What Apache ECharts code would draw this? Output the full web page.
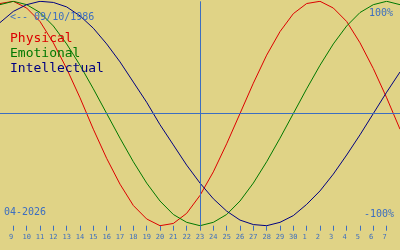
<!DOCTYPE html>
<html>
<head>
<meta charset="utf-8">
<script src="https://cdn.jsdelivr.net/npm/echarts@6/dist/echarts.min.js"></script>
<style>
html,body{margin:0;padding:0;background:#e0d386;}
#c{width:400px;height:250px;}
</style>
</head>
<body>
<div id="c"></div>
<script>
// Day labels along the x axis (8 April 2026 .. 8 May 2026)
const dayLabels = ['8','9','10','11','12','13','14','15','16','17','18','19','20','21','22','23','24','25','26','27','28','29','30','1','2','3','4','5','6','7','8'];
const todayLabel = '23';
const monthLabel = '04-2026';
const birthLabel = '<-- 09/10/1986';
const topLabel = '100%';
const bottomLabel = '-100%';
const seriesNames = ['Physical','Emotional','Intellectual'];

// Values, one per day (-1 .. 1)
const physical = [0.98,1.00,0.94,0.82,0.63,0.40,0.14,-0.14,-0.40,-0.63,-0.82,-0.94,-1.00,-0.98,-0.89,-0.73,-0.52,-0.27,0.00,0.27,0.52,0.73,0.89,0.98,1.00,0.94,0.82,0.63,0.40,0.14,-0.14];
const emotional = [0.97,1.00,0.97,0.90,0.78,0.62,0.43,0.22,0.00,-0.22,-0.43,-0.62,-0.78,-0.90,-0.97,-1.00,-0.97,-0.90,-0.78,-0.62,-0.43,-0.22,0.00,0.22,0.43,0.62,0.78,0.90,0.97,1.00,0.97];
const intellectual = [0.81,0.91,0.97,1.00,0.99,0.95,0.87,0.76,0.62,0.46,0.28,0.10,-0.10,-0.28,-0.46,-0.62,-0.76,-0.87,-0.95,-0.99,-1.00,-0.97,-0.91,-0.81,-0.69,-0.54,-0.37,-0.19,0.00,0.19,0.37];

const BLUE = '#3c6ec0';
const colors = ['#dc0000','#007800','#000080'];
const MONO = '"DejaVu Sans Mono", "Liberation Mono", monospace';

const chart = echarts.init(document.getElementById('c'), null, {renderer:'canvas'});
const lastIdx = dayLabels.length - 1;
const inner = (i) => i > 0 && i < lastIdx;
const txt = (size) => ({color: BLUE, fontFamily: MONO, fontSize: size, fontWeight: 'normal'});

chart.setOption({
  animation: false,
  backgroundColor: '#e0d386',
  title: [
    {text: birthLabel, left: 10, top: 12, padding: 0, textStyle: txt(10)},
    {text: topLabel, right: 7, top: 8, padding: 0, textStyle: txt(10)},
    {text: bottomLabel, right: 6, top: 209, padding: 0, textStyle: txt(10)},
    {text: monthLabel, left: 4, top: 207, padding: 0, textStyle: txt(10)}
  ],
  legend: {
    orient: 'vertical',
    left: 5,
    top: 32,
    padding: 0,
    itemGap: 2,
    itemWidth: 0,
    itemHeight: 13,
    icon: 'none',
    selectedMode: false,
    data: seriesNames.map((n, i) => ({name: n, textStyle: {color: colors[i], fontFamily: MONO, fontSize: 13}}))
  },
  grid: {left: 0, right: 0, top: 1.3, bottom: 24.3},
  xAxis: {
    type: 'category',
    data: dayLabels,
    boundaryGap: false,
    axisLine: {show: false, onZero: false},
    axisTick: {show: true, length: 5, interval: (i) => inner(i), lineStyle: {color: BLUE, width: 1}},
    axisLabel: {
      interval: (i) => inner(i),
      margin: 8,
      color: BLUE,
      fontFamily: MONO,
      fontSize: 7,
      formatter: (v) => v.length < 2 ? v + ' ' : v
    },
    splitLine: {show: false}
  },
  yAxis: {
    type: 'value',
    min: -1,
    max: 1,
    show: false
  },
  series: [
    {name: seriesNames[0], type: 'line', data: physical, symbol: 'none', smooth: false, lineStyle: {color: colors[0], width: 1}, itemStyle: {color: colors[0]},
     markLine: {silent: true, symbol: 'none', label: {show: false}, lineStyle: {color: BLUE, width: 1, type: 'solid'},
       data: [{xAxis: todayLabel}, {yAxis: 0}]}},
    {name: seriesNames[1], type: 'line', data: emotional, symbol: 'none', smooth: false, lineStyle: {color: colors[1], width: 1}, itemStyle: {color: colors[1]}},
    {name: seriesNames[2], type: 'line', data: intellectual, symbol: 'none', smooth: false, lineStyle: {color: colors[2], width: 1}, itemStyle: {color: colors[2]}}
  ]
});
</script>
</body>
</html>
